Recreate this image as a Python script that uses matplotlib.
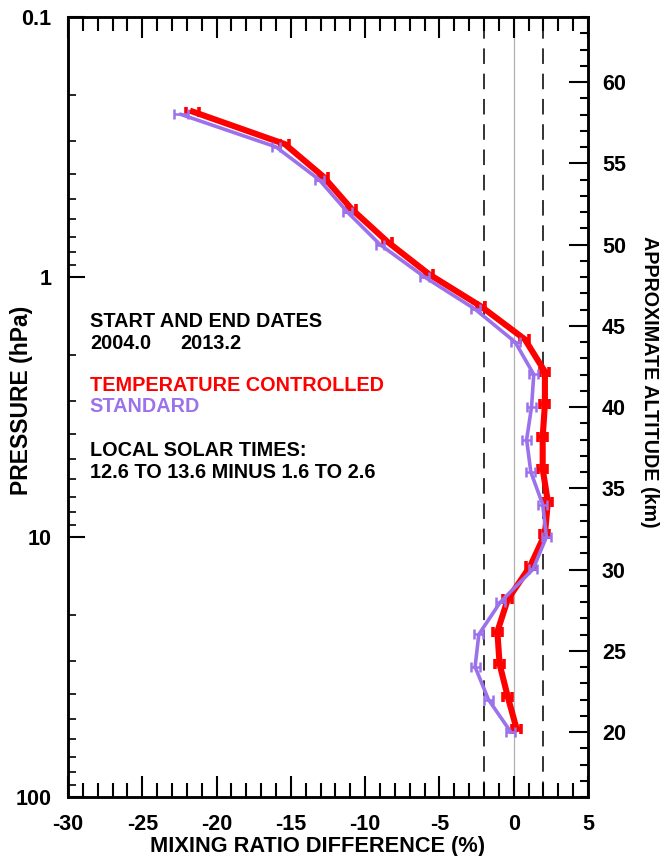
import matplotlib
matplotlib.use("Agg")
import matplotlib.pyplot as plt
from matplotlib.transforms import ScaledTranslation
from matplotlib.ticker import MultipleLocator, FixedLocator, NullFormatter

plt.rcParams['font.family'] = ['Liberation Sans', 'DejaVu Sans']
plt.rcParams['font.weight'] = 'bold'

# ---- data ----
pressure = [0.237, 0.316, 0.422, 0.562, 0.750, 1.00, 1.33, 1.78, 2.37, 3.16,
            4.22, 5.62, 7.50, 10.0, 13.3, 17.8, 23.7, 31.6, 42.2, 56.2]
temp_controlled = [-21.6, -15.4, -12.8, -10.9, -8.5, -5.7, -2.2, 0.75, 2.1, 2.1,
                   1.95, 1.95, 2.3, 2.1, 1.1, -0.4, -1.1, -0.95, -0.4, 0.2]
temp_err = [0.45, 0.3, 0.3, 0.3, 0.3, 0.3, 0.3, 0.3, 0.3, 0.3,
            0.3, 0.3, 0.3, 0.3, 0.3, 0.3, 0.3, 0.3, 0.3, 0.3]
standard = [-22.4, -16.0, -13.1, -11.2, -9.0, -6.0, -2.6, 0.1, 1.35, 1.2,
            0.87, 1.15, 1.95, 2.2, 1.3, -0.9, -2.35, -2.6, -1.7, -0.2]
std_err = [0.45, 0.3, 0.3, 0.3, 0.3, 0.3, 0.3, 0.3, 0.3, 0.3,
           0.3, 0.3, 0.3, 0.3, 0.3, 0.3, 0.3, 0.3, 0.3, 0.3]
pressure_ticks = [0.1, 1, 10, 100]
pressure_labels = ['0.1', '1', '10', '100']
x_ticks = [-30, -25, -20, -15, -10, -5, 0, 5]
x_labels = ['-30', '-25', '-20', '-15', '-10', '-5', '0', '5']
alt_ticks = [20, 25, 30, 35, 40, 45, 50, 55, 60]
alt_labels = ['20', '25', '30', '35', '40', '45', '50', '55', '60']
ref_lines = [-2, 2]

RED = '#ff0000'
PURPLE = '#9b72ec'

fig = plt.figure(figsize=(6.61, 8.56), dpi=100)
ax = fig.add_axes([68/661, 1-797/856, 520/661, 780/856])

ax.set_yscale('log')
ax.set_ylim(100, 0.1)
ax.set_xlim(-30, 5)

# reference lines
ax.axvline(0, color='#b0b0b0', lw=0.9, zorder=1)
for xv in ref_lines:
    ax.axvline(xv, color='#333333', lw=1.4, dashes=(8, 5), zorder=1)

red_tr = ax.transData + ScaledTranslation(0, 2/72, fig.dpi_scale_trans)
ax.errorbar(temp_controlled, pressure, xerr=temp_err, color=RED, lw=4.4,
            elinewidth=2.6, capsize=3.8, capthick=2.6, zorder=3,
            transform=red_tr)
ax.errorbar(standard, pressure, xerr=std_err, color=PURPLE, lw=2.6,
            elinewidth=1.8, capsize=3.5, capthick=1.8, zorder=4)

# texts
tx = 0.042
fs = 14.3
ax.text(tx, 0.609, 'START AND END DATES', transform=ax.transAxes, fontsize=fs,
        fontweight='bold', va='center')
ax.text(tx, 0.582, '2004.0', transform=ax.transAxes, fontsize=fs,
        fontweight='bold', va='center')
ax.text(0.215, 0.582, '2013.2', transform=ax.transAxes, fontsize=fs,
        fontweight='bold', va='center')
ax.text(tx, 0.527, 'TEMPERATURE CONTROLLED', transform=ax.transAxes, fontsize=fs,
        fontweight='bold', va='center', color=RED)
ax.text(tx, 0.500, 'STANDARD', transform=ax.transAxes, fontsize=fs,
        fontweight='bold', va='center', color=PURPLE)
ax.text(tx, 0.4436, 'LOCAL SOLAR TIMES:', transform=ax.transAxes, fontsize=fs,
        fontweight='bold', va='center')
ax.text(tx, 0.4154, '12.6 TO 13.6 MINUS 1.6 TO 2.6', transform=ax.transAxes,
        fontsize=fs, fontweight='bold', va='center')

# axes styling
for s in ax.spines.values():
    s.set_linewidth(1.8)

ax.set_xticks(x_ticks, labels=x_labels)
ax.xaxis.set_minor_locator(MultipleLocator(1))
ax.tick_params(axis='x', which='major', direction='in', top=True, bottom=True,
               length=15, width=1.5, labelsize=15.5, pad=12)
ax.tick_params(axis='x', which='minor', direction='in', top=True, bottom=True,
               length=10, width=1.5)

ax.set_yticks(pressure_ticks, labels=pressure_labels)
ax.yaxis.set_minor_locator(FixedLocator(
    [m * 10**e for e in (-1, 0, 1) for m in range(2, 10)]))
ax.yaxis.set_minor_formatter(NullFormatter())
ax.tick_params(axis='y', which='major', direction='in', left=True, right=False,
               length=12, width=1.5, labelsize=15.5, pad=12)
ax.tick_params(axis='y', which='minor', direction='in', left=True, right=False,
               length=6, width=1.2)
for lab in ax.get_xticklabels() + ax.get_yticklabels():
    lab.set_fontweight('bold')

ax.set_xlabel('MIXING RATIO DIFFERENCE (%)', fontsize=15.7, fontweight='bold')
ax.xaxis.set_label_coords(0.48, -0.0635)
ax.xaxis.label.set_va('center')
ax.set_ylabel('PRESSURE (hPa)', fontsize=16.5, fontweight='bold')
ax.yaxis.set_label_coords(-0.0885, 0.509)
ax.yaxis.label.set_va('center')

# altitude axis
ax2 = ax.twinx()
ax2.set_ylim(16, 64)
ax2.set_yticks(alt_ticks, labels=alt_labels)
ax2.yaxis.set_minor_locator(MultipleLocator(1))
ax2.tick_params(axis='y', which='major', direction='in', length=14, width=1.5,
                labelsize=15.5, pad=10)
ax2.tick_params(axis='y', which='minor', direction='in', length=6, width=1.5)
for lab in ax2.get_yticklabels():
    lab.set_fontweight('bold')
for s in ax2.spines.values():
    s.set_linewidth(1.8)
ax2.set_ylabel('APPROXIMATE ALTITUDE (km)', fontsize=14.2, fontweight='bold',
               rotation=-90)
ax2.yaxis.set_label_coords(1.119, 0.532)
ax2.yaxis.label.set_va('center')

fig.savefig('out.png', dpi=100)
